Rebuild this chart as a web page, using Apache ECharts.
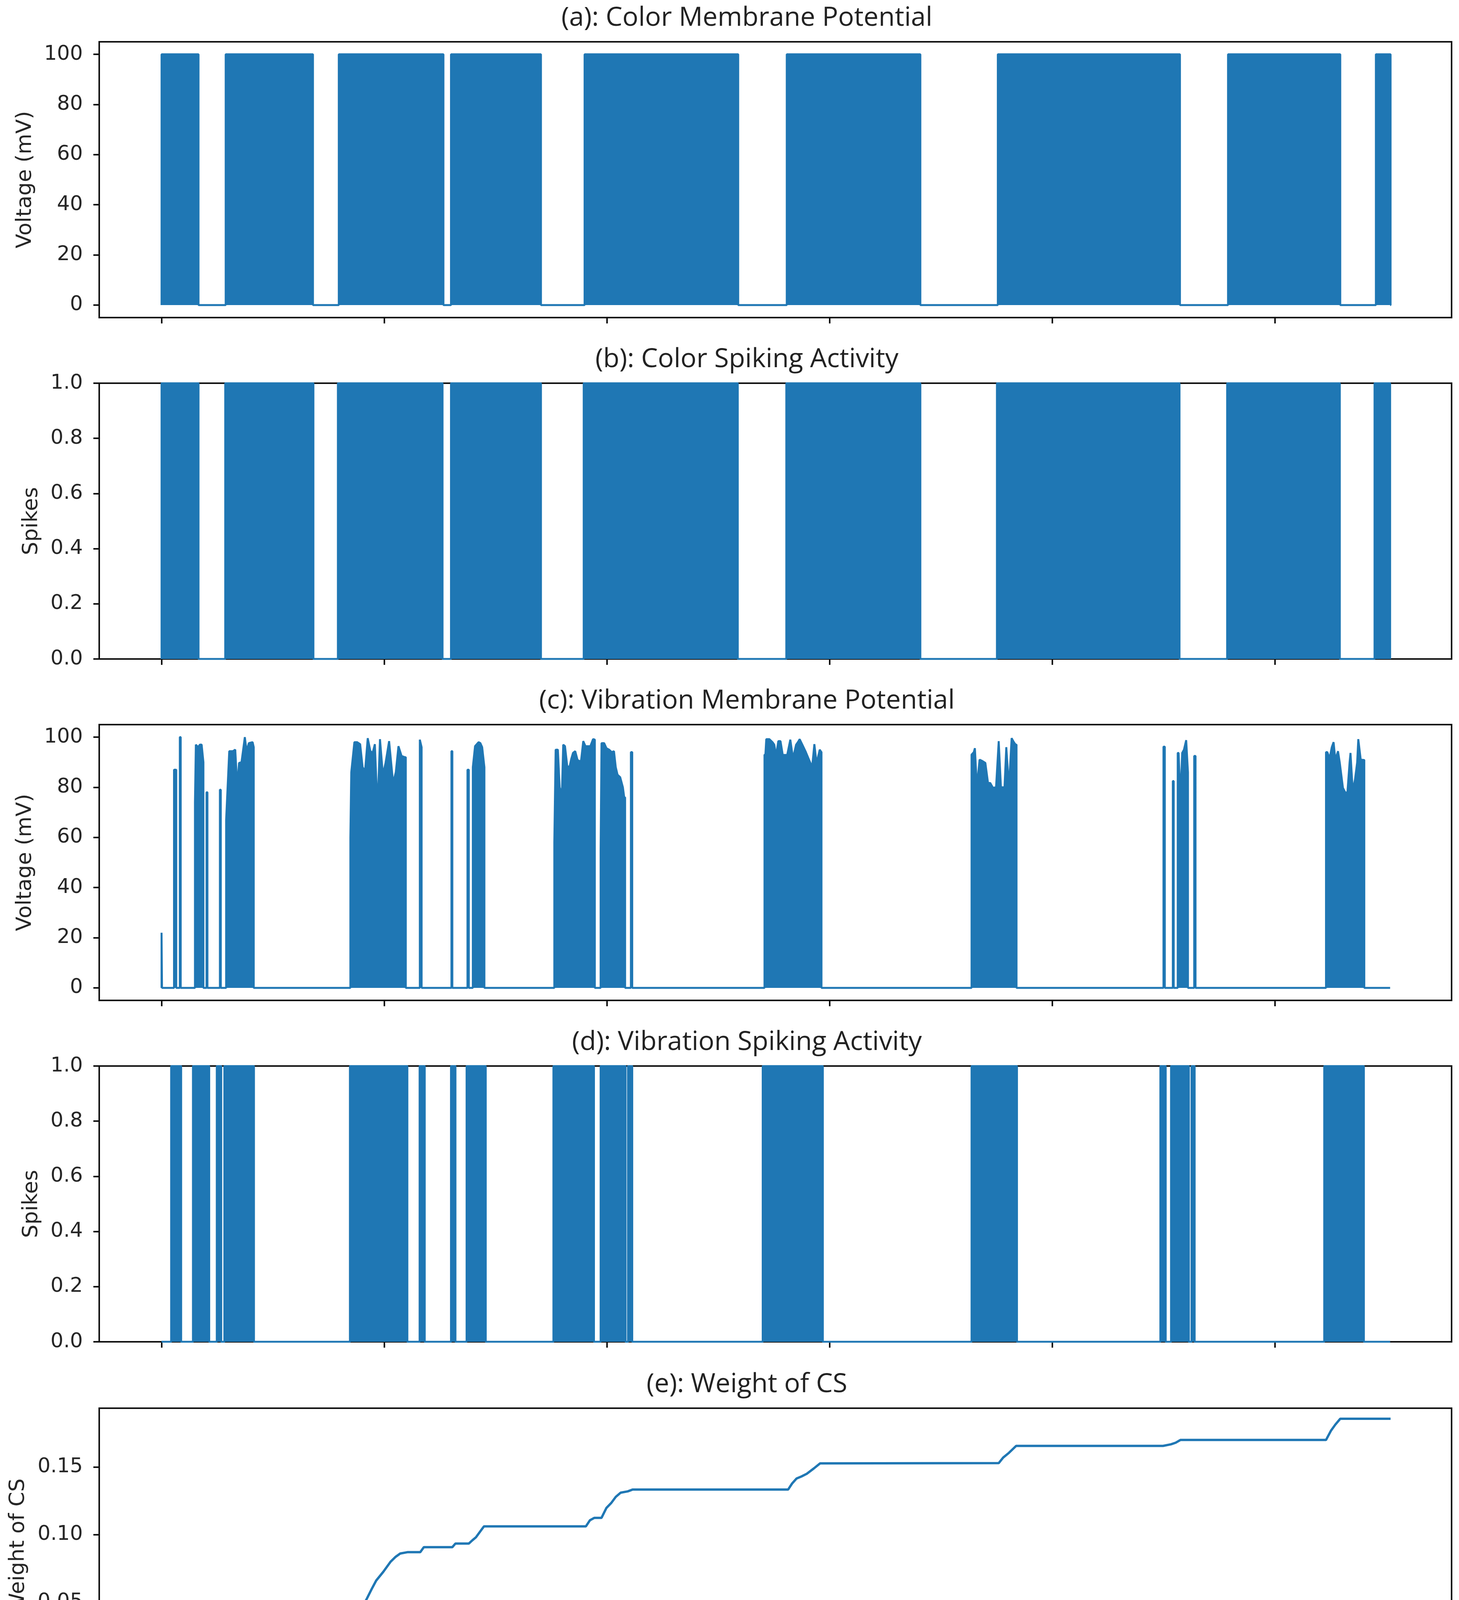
<!DOCTYPE html>
<html lang="en">
<head>
<meta charset="UTF-8">
<title>Spiking activity</title>
<script src="https://cdn.jsdelivr.net/npm/echarts@6/dist/echarts.min.js"></script>
<style>
  html,body{margin:0;height:100%;background:#fff;}
  #chart{width:100%;height:100%;}
</style>
</head>
<body>
<div id="chart"></div>
<script>
// burst intervals [start, end] in s
var colorVoltBursts = [[0,8.3],[14.4,34.0],[39.8,63.3],[65.0,85.2],[95.0,129.5],[140.4,170.4],[187.8,228.7],[239.5,264.7],[272.7,276.0]];
var colorSpikeBursts = [[0,8.3],[14.3,34.1],[39.6,63.1],[65.0,85.2],[94.8,129.4],[140.3,170.4],[187.6,228.6],[239.3,264.6],[272.4,275.9]];
var vibSpikeBursts = [[2.15,4.4],[7.05,10.7],[12.4,13.4],[14.1,20.75],[42.3,55.2],[57.95,59.1],[65.0,66.0],[68.5,72.8],[88.0,97.1],[98.6,104.2],[104.75,105.7],[135.0,148.5],[181.9,192.1],[224.3,225.5],[226.7,230.7],[231.3,232.0],[261.1,270.0]];

// vibration potential: top outline [t, mV] of every burst / single spike
var vibVoltBursts = [
  [[0,22],[0.1,22]],
  [[2.8,87],[3.3,87]],
  [[4.1,100],[4.3,100]],
  [[7.5,74],[7.7,97],[8.2,96],[8.6,97],[9.0,97],[9.4,90]],
  [[10.1,78],[10.3,78]],
  [[13.1,79],[13.3,79]],
  [[14.5,67],[15.2,94.4],[16.0,94.4],[16.55,95],[17.0,80],[17.4,89.7],[17.95,90],[18.7,100],[19.1,94.4],[19.6,97.6],[20.45,98],[20.7,96]],
  [[42.4,60],[42.6,86],[43.3,98],[43.9,98],[44.6,97.2],[45.15,88],[45.7,86.5],[46.3,99.6],[46.9,94.4],[47.4,93.7],[47.9,97.2],[48.5,71],[49.05,99.2],[49.7,85],[50.3,89.7],[51.1,98.4],[52.0,81.7],[52.6,86],[53.2,96.4],[53.9,92.5],[54.6,92],[54.85,92]],
  [[58.0,99],[58.4,96]],
  [[65.1,94.4],[65.3,94.4]],
  [[68.7,87],[69.0,87]],
  [[69.9,88],[70.4,96.4],[71.2,98],[71.6,97.6],[72.0,96],[72.5,88]],
  [[88.2,58],[88.5,95],[89.0,95],[89.4,80],[89.9,77],[90.2,97],[90.6,96.4],[91.1,88.5],[91.6,88],[92.0,91.3],[92.4,93.7],[92.9,94.4],[93.4,91],[93.7,90.5],[94.2,90.5],[94.7,98.4],[95.2,96.4],[95.8,96.4],[96.3,96.4],[96.9,99.2],[97.3,99]],
  [[98.6,55],[98.8,97.6],[99.4,97.6],[99.9,95.6],[100.5,95],[101.1,94],[101.6,94.4],[102.0,88],[102.4,85],[103.0,84],[103.6,80],[103.9,76],[104.1,76]],
  [[105.4,94],[105.7,94]],
  [[135.4,93],[135.6,93],[135.8,99.2],[136.5,99.2],[137.2,98],[137.6,97],[138.0,92.5],[138.5,98.4],[139.0,98.4],[139.5,92.9],[140.5,92.9],[141.2,99],[141.8,91.5],[142.5,97],[142.9,98],[143.3,99.2],[143.9,97],[144.6,94.4],[145.4,91],[146.1,88],[146.6,97.2],[147.1,89.5],[147.8,95],[148.2,94]],
  [[181.9,93],[182.4,94],[182.65,95.6],[183.1,80],[183.7,91],[184.3,90.5],[185.0,89.7],[185.6,81.7],[186.1,81.7],[186.7,79.8],[187.4,80],[188.0,98.4],[188.5,80],[189.3,80],[189.7,96],[190.3,79.8],[190.9,99.6],[191.4,98],[191.8,97],[192.0,97]],
  [[225.0,96.2],[225.3,96.2]],
  [[227.1,82.5],[227.3,82.5]],
  [[228.2,93.7],[228.4,93.7],[228.8,75],[229.2,93.7],[229.6,95],[230.1,98.8],[230.5,86]],
  [[231.9,92.5],[232.2,92.5]],
  [[261.5,94],[261.8,94],[262.3,91.5],[262.8,96],[263.2,98],[263.6,91],[264.2,94.4],[264.6,89.7],[265.3,79.8],[265.8,78],[266.3,77.8],[266.8,90],[267.0,93.7],[267.5,78.6],[268.0,83],[268.5,90],[268.75,99.2],[269.3,91],[269.9,90.9],[270.1,90.9]]
];

// weight of CS [t, w]
var weightTrace = [[0,0],[2.45,0],[3.5,0.0027],[4.6,0.004],[7.8,0.004],[8.1,0.0054],[14.7,0.0054],[15.8,0.0127],[16.8,0.0172],[17.9,0.027],[19.0,0.0336],[20.0,0.039],[20.8,0.040],[42.9,0.040],[44.0,0.0417],[45.0,0.046],[46.1,0.0526],[47.2,0.0598],[48.2,0.066],[49.8,0.0725],[51.4,0.0798],[52.5,0.0834],[53.6,0.086],[55.2,0.087],[58.1,0.087],[58.9,0.0907],[65.3,0.0907],[66.0,0.0934],[69.0,0.0934],[69.8,0.0958],[70.6,0.098],[71.4,0.1016],[72.4,0.1061],[95.3,0.1061],[96.2,0.1106],[97.2,0.1124],[98.8,0.1124],[99.9,0.1197],[100.96,0.1233],[102.0,0.1279],[103.1,0.131],[104.7,0.132],[105.75,0.1333],[140.7,0.1333],[141.6,0.1378],[142.6,0.1415],[143.7,0.143],[144.9,0.145],[146.5,0.149],[147.9,0.1527],[188.0,0.1529],[189.0,0.157],[190.3,0.1605],[191.9,0.1656],[224.9,0.1656],[226.7,0.1668],[227.75,0.168],[228.8,0.170],[261.5,0.170],[262.6,0.1768],[263.6,0.1814],[264.7,0.1857],[276.0,0.1857]];

var traceEnd = 275.9;
var timeTicks = [0, 50, 100, 150, 200, 250];
var voltTicks = [0, 20, 40, 60, 80, 100];
var weightTicks = [0, 0.05, 0.10, 0.15];
var titles = ['(a): Color Membrane Potential', '(b): Color Spiking Activity',
  '(c): Vibration Membrane Potential', '(d): Vibration Spiking Activity', '(e): Weight of CS'];
var yNames = ['Voltage (mV)', 'Spikes', 'Voltage (mV)', 'Spikes', 'Weight of CS'];

var blue = '#1f77b4';
var tops = [107, 981, 1855, 2729, 3605];

// burst [s,e] -> square block 0..top
function blockTrace(bursts, top) {
  var pts = [[0, 0]];
  bursts.forEach(function (b) {
    pts.push([b[0], 0], [b[0], top], [b[1], top], [b[1], 0]);
  });
  pts.push([traceEnd, 0]);
  return pts;
}
// outline bursts -> closed shapes standing on 0
function outlineTrace(bursts) {
  var pts = [[0, 0]];
  bursts.forEach(function (b) {
    pts.push([b[0][0], 0]);
    b.forEach(function (p) { pts.push(p); });
    pts.push([b[b.length - 1][0], 0]);
  });
  pts.push([traceEnd, 0]);
  return pts;
}

var tickFont = {fontFamily: 'DejaVu Sans', fontSize: 52, color: '#262626'};
var tickLine = {show: true, length: 15, lineStyle: {color: '#111', width: 4}};

var grids = [], xAxes = [], yAxes = [], series = [], titleList = [];
for (var i = 0; i < 5; i++) {
  grids.push({left: 254, right: 19, top: tops[i], height: 706, show: true,
    borderColor: '#111', borderWidth: 4, outerBoundsMode: 'none'});
  titleList.push({text: titles[i], left: 1912, top: tops[i] - 94, textAlign: 'center', padding: 0,
    textStyle: {fontFamily: 'Open Sans', fontSize: 68, fontWeight: 'normal', color: '#222'}});
  xAxes.push({type: 'value', gridIndex: i, min: -14, max: 289.7,
    axisLine: {show: false, onZero: false}, splitLine: {show: false},
    axisTick: Object.assign({customValues: timeTicks}, tickLine),
    axisLabel: Object.assign({show: i === 4, margin: 28, customValues: timeTicks}, tickFont),
    name: i === 4 ? 'Time (s)' : '', nameLocation: 'middle', nameGap: 104,
    nameTextStyle: {fontFamily: 'Open Sans', fontSize: 56, color: '#222'}});
}

var yBase = {type: 'value', axisLine: {show: false, onZero: false}, splitLine: {show: false},
  nameLocation: 'middle', nameRotate: 90,
  nameTextStyle: {fontFamily: 'DejaVu Sans', fontSize: 54, color: '#262626'}};

function yAxis(i, extra) {
  var a = Object.assign({}, yBase, {gridIndex: i, name: yNames[i]}, extra);
  a.axisTick = Object.assign({}, tickLine, extra.axisTick || {});
  a.axisLabel = Object.assign({margin: 42}, tickFont, extra.axisLabel || {});
  return a;
}
yAxes.push(yAxis(0, {min: -5, max: 105, nameGap: 162, axisTick: {customValues: voltTicks}, axisLabel: {customValues: voltTicks}}));
yAxes.push(yAxis(1, {min: 0, max: 1, interval: 0.2, nameGap: 146, axisLabel: {formatter: function (v) { return v.toFixed(1); }}}));
yAxes.push(yAxis(2, {min: -5, max: 105, nameGap: 162, axisTick: {customValues: voltTicks}, axisLabel: {customValues: voltTicks}}));
yAxes.push(yAxis(3, {min: 0, max: 1, interval: 0.2, nameGap: 146, axisLabel: {formatter: function (v) { return v.toFixed(1); }}}));
yAxes.push(yAxis(4, {min: -0.0105, max: 0.1935, nameGap: 180, axisTick: {customValues: weightTicks},
  axisLabel: {customValues: weightTicks, formatter: function (v) { return v.toFixed(2); }}}));

var traces = [
  blockTrace(colorVoltBursts, 100),
  blockTrace(colorSpikeBursts, 1),
  outlineTrace(vibVoltBursts),
  blockTrace(vibSpikeBursts, 1),
  weightTrace
];
traces.forEach(function (d, i) {
  series.push({type: 'line', xAxisIndex: i, yAxisIndex: i, data: d,
    showSymbol: false, symbol: 'none', sampling: null, clip: true,
    lineStyle: {color: blue, width: i === 4 ? 6 : 5},
    areaStyle: i === 4 ? null : {color: blue, opacity: 1},
    silent: true});
});

var myChart = echarts.init(document.getElementById('chart'));
myChart.setOption({
  animation: false,
  backgroundColor: '#fff',
  title: titleList,
  grid: grids,
  xAxis: xAxes,
  yAxis: yAxes,
  series: series
});
window.addEventListener('resize', function () { myChart.resize(); });
</script>
</body>
</html>
